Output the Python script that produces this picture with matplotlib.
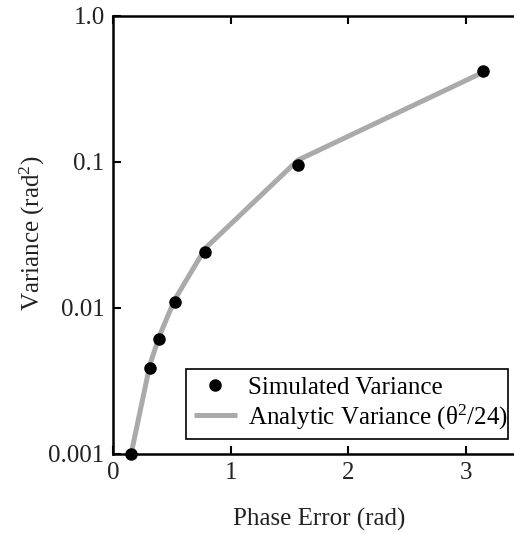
"""Phase-error variance: simulated points against the analytic theta^2/24 curve."""

import matplotlib

matplotlib.use("Agg")
import matplotlib.pyplot as plt

# Phase error (rad) at pi/20, pi/10, pi/8, pi/6, pi/4, pi/2 and pi.
phase_error = [0.157, 0.314, 0.393, 0.524, 0.785, 1.571, 3.142]
# Variance from the simulation (rad^2).
simulated_variance = [0.00100, 0.0039, 0.0061, 0.0110, 0.0243, 0.096, 0.418]
# Analytic variance theta^2/24 at the same phase errors (rad^2).
analytic_variance = [0.00103, 0.0041, 0.0064, 0.0114, 0.0257, 0.103, 0.411]

x_ticks = [0, 1, 2, 3]
y_ticks = [0.001, 0.01, 0.1, 1.0]
y_tick_labels = ["0.001", "0.01", "0.1", "1.0"]

FONT_SIZE = 18
TEXT_COLOR = "#222222"

plt.rcParams.update(
    {
        "font.family": "serif",
        "font.serif": ["Liberation Serif", "DejaVu Serif"],
        "font.size": FONT_SIZE,
        "mathtext.fontset": "custom",
        "mathtext.rm": "Liberation Serif",
        "mathtext.it": "Liberation Serif",
        "mathtext.bf": "Liberation Serif:bold",
    }
)

W, H = 514, 533
fig = plt.figure(figsize=(W / 100, H / 100), dpi=100)
# Axes run to x = 3.5, a little past the right edge of the canvas.
left, right, top, bottom = 113, 525, 16, 454
ax = fig.add_axes(
    [left / W, 1 - bottom / H, (right - left) / W, (bottom - top) / H]
)

ax.plot(
    phase_error,
    analytic_variance,
    color="#aaaaaa",
    linewidth=3.6,
    solid_capstyle="butt",
    label="Analytic Variance (θ$^{2}$/24)",
    zorder=2,
    clip_on=False,
)
ax.plot(
    phase_error,
    simulated_variance,
    linestyle="none",
    marker="o",
    markersize=8,
    color="black",
    label="Simulated Variance",
    zorder=3,
    clip_on=False,
)

ax.set_yscale("log")
ax.set_xlim(0, 3.5)
ax.set_ylim(0.001, 1.0)
ax.set_xticks(x_ticks)
ax.set_yticks(y_ticks, y_tick_labels)
ax.minorticks_off()
ax.tick_params(
    direction="in",
    length=6,
    width=1.5,
    top=True,
    right=True,
    pad=6,
    colors="black",
    labelcolor=TEXT_COLOR,
)
for spine in ax.spines.values():
    spine.set_linewidth(1.8)

ax.set_xlabel("Phase Error (rad)", labelpad=17, color=TEXT_COLOR)
ax.set_ylabel("Variance (rad$^{2}$)", color=TEXT_COLOR)
ax.yaxis.set_label_coords(-0.16, 0.505)

handles, labels = ax.get_legend_handles_labels()
legend = ax.legend(
    handles[::-1],
    labels[::-1],
    loc="lower left",
    bbox_to_anchor=(186 / W, 1 - 439 / H, (508 - 186) / W, (439 - 364) / H),
    bbox_transform=fig.transFigure,
    mode="expand",
    fancybox=False,
    framealpha=1,
    edgecolor="black",
    handlelength=1.75,
    handletextpad=0.45,
    borderpad=0.3,
    labelspacing=0.15,
    borderaxespad=0,
    fontsize=FONT_SIZE,
)
legend.get_frame().set_linewidth(1.2)

fig.savefig("out.png", dpi=100)
